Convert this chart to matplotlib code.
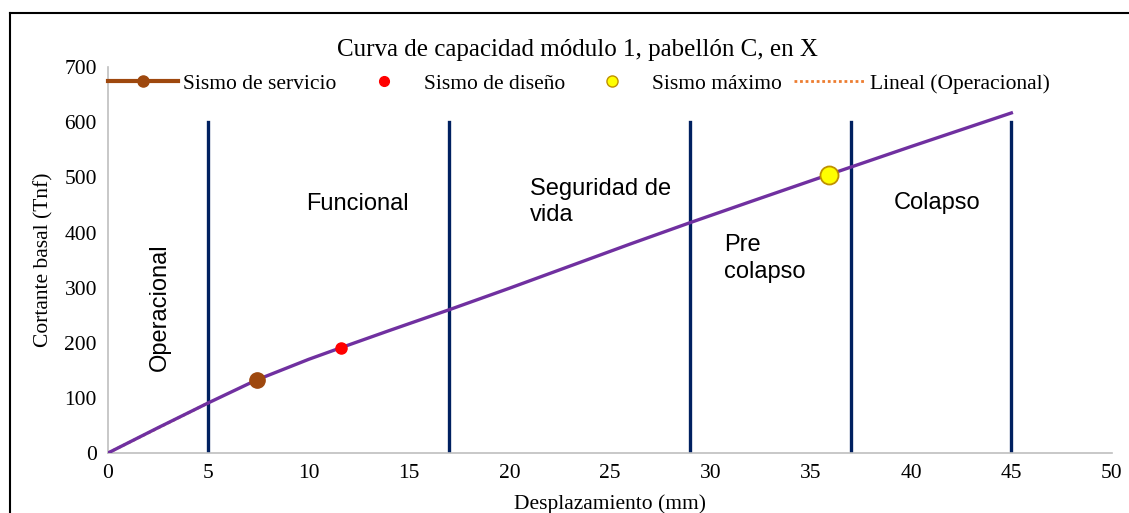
import numpy as np
import matplotlib.pyplot as plt
from matplotlib.lines import Line2D

# Capacity curve (displacement mm, base shear Tnf)
desp = [0, 2.5, 5, 7.4, 10, 11.6, 14, 17, 20, 23, 26, 29, 32, 35.9, 40, 45]
cortante = [0, 46, 91, 132.5, 170, 191, 222, 260, 299, 339, 379, 418, 456, 505, 556, 617]

# performance points
servicio = (7.4, 132.5)
diseno = (11.6, 191)
maximo = (35.9, 505)

# linear trend of the operational range
lineal_x = [0, 5]
lineal_y = [0, 91]

# limits between performance levels
limites = [5, 17, 29, 37, 45]
limite_alto = 600

zonas = ['Operacional', 'Funcional', 'Seguridad de\nvida', 'Pre\ncolapso', 'Colapso']

plt.rcParams['font.family'] = ['Liberation Serif', 'DejaVu Serif']

fig = plt.figure(figsize=(11.29, 5.13), dpi=100)
ax = fig.add_axes([0.0957, 0.117, 0.889, 0.752])

for xl in limites:
    ax.plot([xl, xl], [0, limite_alto], color='#002060', lw=2.4, zorder=2)

ax.plot(lineal_x, lineal_y, color='#ED7D31', lw=2, ls=(0, (1, 1)), zorder=2)
ax.plot(desp, cortante, color='#7030A0', lw=2.4, zorder=3)

ax.plot(*servicio, 'o', color='#9E480E', ms=11, zorder=4)
ax.plot(*diseno, 'o', color='#FF0000', ms=8, zorder=4)
ax.plot(*maximo, 'o', mfc='#FFFF00', mec='#BF9000', mew=1.3, ms=13, zorder=4)

sans = ['Liberation Sans', 'DejaVu Sans']
fs = 17
ax.text(2.6, 265, zonas[0], rotation=90, ha='center', va='center', fontsize=fs, family=sans)
ax.text(12.4, 452, zonas[1], ha='center', va='center', fontsize=fs, family=sans)
ax.text(21.0, 455, zonas[2], ha='left', va='center', fontsize=fs, family=sans,
        linespacing=1.25)
ax.text(30.7, 353, zonas[3], ha='left', va='center', fontsize=fs, family=sans,
        linespacing=1.25)
ax.text(41.3, 453, zonas[4], ha='center', va='center', fontsize=fs, family=sans)

ax.set_xlim(0, 50)
ax.set_ylim(0, 700)
ax.set_xticks(range(0, 51, 5))
ax.set_yticks(range(0, 701, 100))
ax.tick_params(length=0, labelsize=15.5, pad=8)
for s in ['top', 'right']:
    ax.spines[s].set_visible(False)
for s in ['left', 'bottom']:
    ax.spines[s].set_color('#BFBFBF')
    ax.spines[s].set_linewidth(1.2)

ax.set_title('Curva de capacidad módulo 1, pabellón C, en X', fontsize=18, x=0.468, pad=8)
ax.set_xlabel('Desplazamiento (mm)', fontsize=15.5, labelpad=8)
ax.set_ylabel('Cortante basal (Tnf)', fontsize=15.5, labelpad=8)

handles = [
    Line2D([], [], color='#9E480E', lw=3, marker='o', ms=8),
    Line2D([], [], ls='none', marker='o', color='#FF0000', ms=7),
    Line2D([], [], ls='none', marker='o', mfc='#FFFF00', mec='#BF9000', ms=8),
    Line2D([], [], color='#ED7D31', lw=2, ls=(0, (1, 1))),
]
labels = ['Sismo de servicio', 'Sismo de diseño', 'Sismo máximo', 'Lineal (Operacional)']
ax.legend(handles, labels, ncol=4, frameon=False, fontsize=15.5,
          loc='center', bbox_to_anchor=(0.469, 0.957), handlelength=3.25,
          columnspacing=0.55, handletextpad=0.25)

# outer chart frame
fig.add_artist(Line2D([0.0089, 0.0089], [0, 0.975], color='black', lw=1.5))
fig.add_artist(Line2D([0.0089, 1.0], [0.975, 0.975], color='black', lw=1.5))

fig.savefig('out.png', dpi=100)
